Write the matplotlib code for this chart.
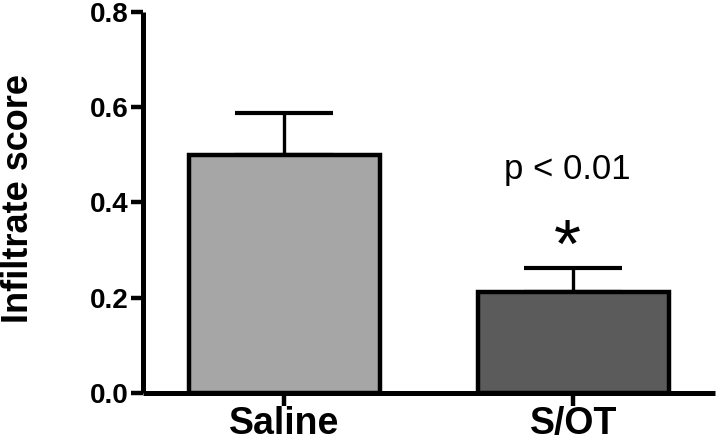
import numpy as np
import matplotlib.pyplot as plt

plt.rcParams.update({
    "font.family": ["Liberation Sans", "DejaVu Sans"],
    "font.weight": "bold",
    "axes.labelweight": "bold",
})

groups = ["Saline", "S/OT"]
means = [0.50, 0.212]
sem = [0.088, 0.051]
colors = ["#a6a6a6", "#5b5b5b"]
yticks = [0.0, 0.2, 0.4, 0.6, 0.8]

fig = plt.figure(figsize=(7.17, 4.47), dpi=100)
ax = fig.add_axes([0.1994, 0.121, 0.7976, 0.852])

x = np.arange(len(groups))
ax.bar(x, means, width=0.66, color=colors, edgecolor="black", linewidth=3.2, zorder=2)
ax.errorbar(x, means, yerr=[np.zeros(len(sem)), sem], fmt="none", ecolor="black",
            elinewidth=2.4, capsize=35, capthick=3.0, zorder=1)

# significance annotation
ax.text(x[1] - 0.02, 0.47, "p < 0.01", ha="center", va="center",
        fontsize=25, fontweight="normal")
ax.text(x[1] - 0.02, 0.264, "*", ha="center", va="baseline",
        fontsize=50, fontweight="normal")

ax.set_xlim(-0.49, 1.49)
ax.set_ylim(0, 0.8)
ax.set_xticks(x)
ax.set_xticklabels(groups, fontsize=27)
ax.set_yticks(yticks)
ax.set_yticklabels([f"{t:.1f}" for t in yticks], fontsize=20)
ax.set_ylabel("Infiltrate score", fontsize=26)
ax.yaxis.set_label_coords(-0.187, 0.51)

for side in ["top", "right"]:
    ax.spines[side].set_visible(False)
for side in ["left", "bottom"]:
    ax.spines[side].set_linewidth(3.6)
    ax.spines[side].set_capstyle("butt")
ax.tick_params(axis="both", width=3.2, length=9, direction="out")
ax.tick_params(axis="x", pad=0.5)
ax.tick_params(axis="y", pad=1.5)

fig.savefig("out.png", dpi=100)
